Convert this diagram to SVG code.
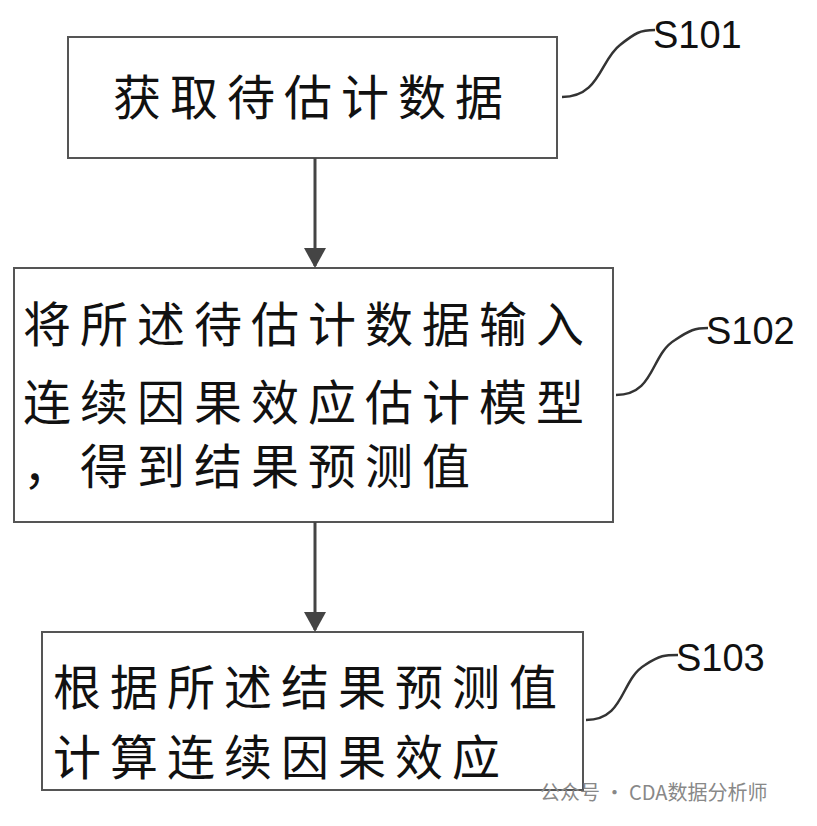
<svg xmlns="http://www.w3.org/2000/svg" width="817" height="826" viewBox="0 0 817 826">
<style>
.b{fill:#fff;stroke:#555;stroke-width:2}
.t{font-family:"Noto Sans CJK SC",sans-serif;font-size:48px;fill:#111;letter-spacing:9px}
.l{font-family:"Liberation Sans",sans-serif;font-size:38px;fill:#111}
.c{fill:none;stroke:#444;stroke-width:3}
.s{fill:none;stroke:#333;stroke-width:2.5}
</style>
<defs><marker id="ah" markerWidth="20" markerHeight="22" refX="18" refY="11" orient="auto" markerUnits="userSpaceOnUse"><path d="M0,0 L20,11 L0,22 Z" fill="#444"/></marker></defs>
<rect width="817" height="826" fill="#fff"/>
<g id="n1"><rect class="b" x="68" y="37" width="489" height="121"/><text class="t" x="113" y="115">获取待估计数据</text><path class="s" d="M562,97 C600,97 600,60 620,45 C635,33 640,30 655,30"/><text class="l" x="653" y="48">S101</text></g>
<g id="n2"><rect class="b" x="14" y="268" width="599" height="254"/><text class="t" x="23" y="342">将所述待估计数据输入</text><text class="t" x="23" y="420">连续因果效应估计模型</text><text class="t" x="23" y="484">，得到结果预测值</text><path class="s" d="M616,395 C655,395 650,355 675,340 C690,330 695,328 708,328"/><text class="l" x="706" y="344">S102</text></g>
<g id="n3"><rect class="b" x="42" y="632" width="541" height="158"/><text class="t" x="53" y="705">根据所述结果预测值</text><text class="t" x="53" y="775">计算连续因果效应</text><path class="s" d="M586,720 C625,720 620,680 645,665 C660,655 665,655 678,655"/><text class="l" x="676" y="671">S103</text></g>
<g id="connectors"><line class="c" x1="315" y1="158" x2="315" y2="266" marker-end="url(#ah)"/><line class="c" x1="315" y1="522" x2="315" y2="630" marker-end="url(#ah)"/></g>
<text x="540" y="800" font-family="Noto Sans CJK SC,sans-serif" font-size="20" fill="#888">公众号 · CDA数据分析师</text>
</svg>
